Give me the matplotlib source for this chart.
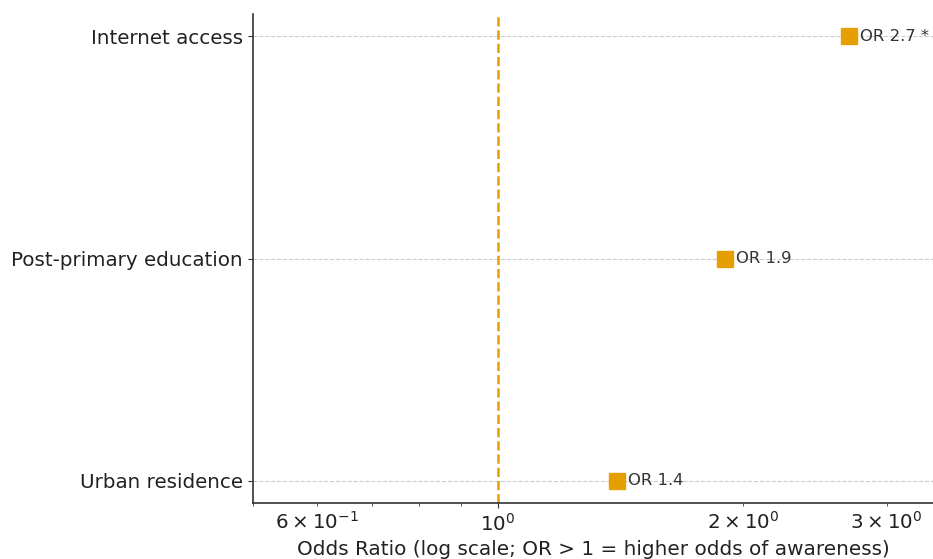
import matplotlib
matplotlib.use("Agg")
import matplotlib.pyplot as plt

# odds ratios from the logistic model
factors = ["Urban residence", "Post-primary education", "Internet access"]
odds_ratios = [1.4, 1.9, 2.7]
labels = ["OR 1.4", "OR 1.9", "OR 2.7 *"]

orange = "#E69F00"

fig = plt.figure(figsize=(9.33, 5.59), dpi=100)
ax = fig.add_axes([0.271, 0.100, 0.729, 0.875])

ypos = list(range(len(factors)))
ax.plot(odds_ratios, ypos, "s", color=orange, markersize=11, linestyle="none", zorder=3)
for x, y, t in zip(odds_ratios, ypos, labels):
    ax.annotate(t, (x, y), xytext=(8, 0), textcoords="offset points",
                va="center", ha="left", fontsize=11.8, color="#333333")

ax.axvline(1, color=orange, linestyle="--", linewidth=1.8, zorder=2)

ax.set_xscale("log")
ax.set_xlim(0.5, 3.42)
ax.set_ylim(-0.1, 2.1)
ax.set_yticks(ypos)
ax.set_yticklabels(factors)
ax.set_xlabel("Odds Ratio (log scale; OR > 1 = higher odds of awareness)", fontsize=14.4, color="#222222")
ax.tick_params(axis="both", which="both", labelsize=14.3, colors="#333333", labelcolor="#222222")
ax.grid(axis="y", linestyle="--", color="#cccccc", linewidth=0.8)
ax.set_axisbelow(True)

for s in ["top", "right"]:
    ax.spines[s].set_visible(False)
for s in ["left", "bottom"]:
    ax.spines[s].set_color("#333333")
    ax.spines[s].set_linewidth(1.2)

fig.savefig("out.png", dpi=100)
